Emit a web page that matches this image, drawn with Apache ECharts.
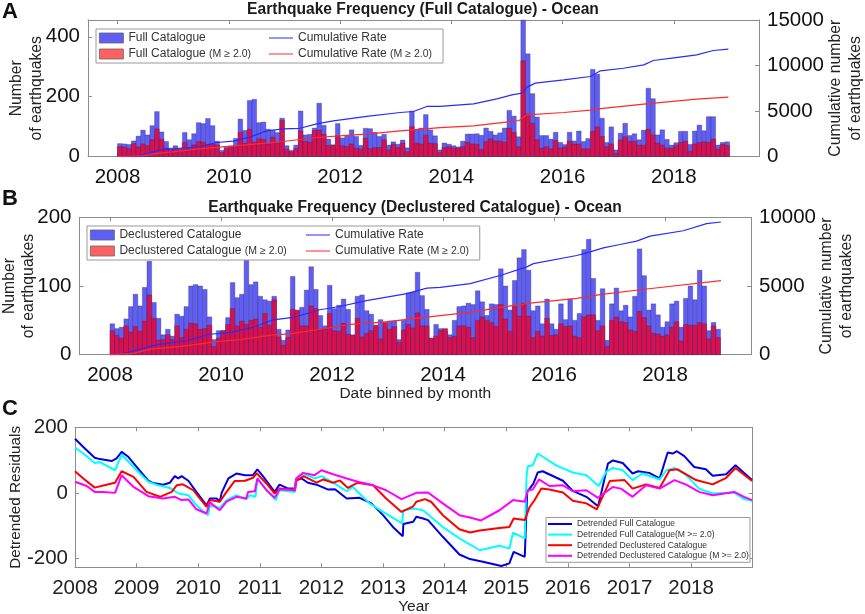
<!DOCTYPE html>
<html><head><meta charset="utf-8">
<style>html,body{margin:0;padding:0;background:#fff}#c{width:865px;height:614px}</style>
<script src="https://cdn.jsdelivr.net/npm/echarts@6/dist/echarts.min.js"></script>
</head><body><div id="c"></div>
<script>
// Monthly counts, Jan 2008 .. Dec 2018
const fullAll=[43,42,40,52,68,88,72,103,150,82,50,28,36,26,80,56,76,113,110,127,103,51,20,33,34,60,125,87,187,191,113,115,91,87,80,128,36,20,38,152,72,74,95,178,104,58,39,110,62,70,89,67,37,94,93,81,67,74,38,49,41,55,29,152,89,95,140,89,69,22,45,41,36,32,51,75,75,76,71,95,84,72,79,95,154,135,66,520,343,210,132,70,70,58,81,47,40,81,52,85,50,60,291,275,128,47,99,22,78,111,70,76,56,88,228,193,72,89,57,38,46,84,84,40,85,105,86,133,133,38,47,49];
const fullM2=[33,32,26,43,32,42,36,56,92,58,28,20,28,22,47,26,39,50,48,39,41,38,13,26,31,33,81,45,91,48,59,57,42,65,45,120,24,16,26,86,50,48,87,88,74,37,38,69,36,33,42,28,24,61,26,30,30,56,22,41,30,45,16,100,45,42,71,45,43,14,30,33,28,28,33,48,42,41,24,50,59,52,51,48,95,80,33,320,142,111,56,28,33,26,54,28,32,51,42,42,26,26,84,99,67,33,42,11,55,66,51,51,38,38,91,72,45,38,28,28,37,47,51,17,42,47,49,47,58,24,41,37];
const declAll=[45,38,40,52,70,88,71,98,136,76,53,29,37,27,59,56,70,100,102,100,95,55,22,35,35,54,105,83,88,139,102,106,85,80,78,85,37,21,36,114,65,69,94,128,95,57,42,101,67,72,81,66,29,85,87,64,59,40,51,38,49,49,22,50,90,91,120,86,66,24,44,38,34,29,50,70,71,75,73,93,77,57,74,73,125,100,65,108,141,153,123,64,71,45,81,45,37,74,51,81,50,60,153,168,111,50,96,21,74,97,64,72,55,85,154,115,65,74,58,40,48,74,78,40,82,100,80,123,100,35,47,37];
const declM2=[35,28,24,42,33,41,34,49,87,53,21,22,29,22,42,25,37,46,45,37,38,43,12,24,35,44,67,42,49,44,50,52,40,60,43,80,26,14,25,66,64,42,42,71,67,36,37,60,35,34,46,30,28,53,26,31,35,43,23,47,37,41,18,36,44,39,61,42,42,24,27,35,38,25,27,42,42,40,25,50,55,50,47,41,73,52,34,70,56,75,56,25,34,27,53,28,29,45,41,42,27,25,55,58,58,35,42,12,50,55,48,47,36,34,63,54,42,31,30,27,29,40,48,20,44,43,43,47,45,23,42,25];
// Cumulative curves: [decimal year, count]
const cumFullAll=[[2008,0],[2008.4,100],[2008.76,730],[2009,840],[2009.48,1100],[2009.78,1540],[2010.08,1685],[2010.38,2125],[2010.68,2820],[2010.98,3040],[2011.28,3100],[2011.58,3590],[2011.88,3920],[2012.48,4400],[2013.08,4835],[2013.32,4945],[2013.56,5500],[2013.8,5500],[2014.4,5790],[2014.82,6340],[2015.09,6780],[2015.27,6960],[2015.36,7620],[2015.51,8060],[2016.02,8425],[2016.5,8790],[2016.68,9415],[2017.09,9700],[2017.46,10070],[2017.63,10550],[2018,10840],[2018.41,11170],[2018.71,11650],[2018.98,11795]];
const cumFullM2=[[2008,0],[2008.46,100],[2008.76,370],[2009.48,840],[2010.08,1170],[2010.68,1465],[2010.98,1650],[2011.58,2090],[2012.18,2340],[2012.48,2450],[2013.08,2820],[2013.8,3180],[2014.4,3370],[2015.1,3850],[2015.22,3955],[2015.36,4580],[2016.02,4835],[2016.5,5090],[2016.68,5270],[2017.5,5790],[2018.41,6300],[2018.98,6520]];
const cumDeclAll=[[2008,0],[2008.24,70],[2008.54,390],[2008.78,680],[2009.38,1020],[2009.8,1490],[2010.16,1610],[2010.58,2000],[2010.94,2540],[2011.3,2710],[2011.78,3270],[2012.14,3510],[2012.62,3930],[2013.35,4440],[2013.71,4850],[2013.95,4900],[2014.49,5170],[2015.06,5800],[2015.51,6390],[2015.63,6630],[2016.41,7220],[2016.59,7410],[2016.89,7780],[2017.19,8020],[2017.49,8270],[2017.73,8630],[2018.33,9020],[2018.75,9540],[2019.01,9660]];
const cumDeclM2=[[2008,0],[2008.42,100],[2008.72,410],[2009.32,630],[2009.92,950],[2010.34,1100],[2010.94,1440],[2011.24,1510],[2011.78,1850],[2012.32,2200],[2012.92,2370],[2013.95,2850],[2014.55,3120],[2015.06,3460],[2015.57,3760],[2016.41,4100],[2016.83,4370],[2017.67,4780],[2019.01,5390]];
// Detrended residuals: [decimal year, residual]
const resFull=[[2008,165],[2008.135,140],[2008.32,107],[2008.405,103],[2008.595,97],[2008.675,105],[2008.757,125],[2008.865,110],[2009,79],[2009.19,37],[2009.27,30],[2009.43,25],[2009.54,31],[2009.62,51],[2009.676,44],[2009.73,51],[2009.84,37],[2009.97,3],[2010.135,-38],[2010.19,-17],[2010.3,-17],[2010.35,-27],[2010.38,0],[2010.49,44],[2010.62,59],[2010.76,54],[2010.89,54],[2010.96,72],[2011.05,51],[2011.24,3],[2011.32,25],[2011.46,13],[2011.57,13],[2011.59,41],[2011.68,44],[2011.78,31],[2011.92,25],[2012.11,10],[2012.22,11],[2012.41,-17],[2012.62,-15],[2012.81,-32],[2013,-68],[2013.16,-104],[2013.32,-132],[2013.33,-95],[2013.49,-88],[2013.54,-73],[2013.65,-78],[2013.73,-83],[2013.97,-134],[2014.24,-188],[2014.41,-202],[2014.62,-210],[2014.92,-223],[2015.05,-215],[2015.12,-180],[2015.3,-195],[2015.34,3],[2015.44,28],[2015.51,62],[2015.59,66],[2015.92,37],[2016.08,6],[2016.3,-12],[2016.49,-41],[2016.54,-2],[2016.65,89],[2016.73,99],[2016.89,91],[2017.05,59],[2017.14,66],[2017.32,61],[2017.49,44],[2017.62,123],[2017.7,120],[2017.77,127],[2017.89,112],[2018.05,79],[2018.24,72],[2018.35,52],[2018.57,57],[2018.72,84],[2018.99,39]];
const resFullM2=[[2008,138],[2008.135,120],[2008.32,91],[2008.405,94],[2008.65,69],[2008.757,117],[2009,69],[2009.19,34],[2009.35,23],[2009.54,15],[2009.68,-2],[2009.84,-7],[2009.97,-38],[2010.16,-68],[2010.19,-38],[2010.35,-46],[2010.46,-22],[2010.62,-7],[2010.78,-20],[2010.84,-7],[2010.93,-12],[2010.96,42],[2011.11,8],[2011.26,-22],[2011.32,8],[2011.57,3],[2011.59,42],[2011.7,59],[2011.89,44],[2012,51],[2012.19,31],[2012.41,5],[2012.51,18],[2012.78,-32],[2013,-58],[2013.31,-93],[2013.33,-53],[2013.51,-48],[2013.65,-53],[2013.97,-104],[2014.24,-139],[2014.57,-175],[2014.89,-161],[2015.05,-170],[2015.11,-121],[2015.3,-139],[2015.33,54],[2015.35,81],[2015.43,84],[2015.51,120],[2015.81,84],[2016.08,62],[2016.3,54],[2016.5,21],[2016.62,64],[2016.73,76],[2016.89,69],[2017.05,39],[2017.21,59],[2017.49,41],[2017.6,69],[2017.73,76],[2017.92,54],[2018.13,13],[2018.35,-2],[2018.7,1],[2018.86,-19],[2018.99,-24]];
const resDecl=[[2008,66],[2008.135,44],[2008.32,16],[2008.51,25],[2008.65,31],[2008.757,66],[2008.95,49],[2009.16,3],[2009.38,-12],[2009.57,3],[2009.65,23],[2009.75,26],[2009.92,8],[2010.135,-43],[2010.19,-22],[2010.35,-27],[2010.46,3],[2010.59,36],[2010.76,37],[2010.89,46],[2010.95,60],[2011.11,28],[2011.24,-2],[2011.32,13],[2011.57,8],[2011.59,36],[2011.71,51],[2011.92,31],[2012.03,41],[2012.19,31],[2012.3,38],[2012.43,15],[2012.59,31],[2012.84,23],[2013.05,-17],[2013.3,-58],[2013.49,-41],[2013.54,-27],[2013.68,-19],[2013.78,-27],[2013.97,-68],[2014.24,-111],[2014.41,-121],[2014.57,-115],[2014.89,-107],[2015.05,-104],[2015.12,-78],[2015.3,-83],[2015.38,-43],[2015.46,-22],[2015.57,13],[2015.7,10],[2015.92,1],[2016.08,-24],[2016.3,-32],[2016.47,-50],[2016.68,36],[2016.92,39],[2017.05,13],[2017.27,26],[2017.49,15],[2017.65,69],[2017.78,72],[2018.08,39],[2018.35,26],[2018.57,46],[2018.72,76],[2018.99,36]];
const resDeclM2=[[2008,34],[2008.19,21],[2008.32,3],[2008.46,3],[2008.65,0],[2008.757,54],[2008.95,18],[2009.19,-10],[2009.43,-17],[2009.62,-12],[2009.73,-22],[2009.84,-20],[2009.97,-50],[2010.135,-63],[2010.19,-29],[2010.35,-53],[2010.46,-27],[2010.62,-12],[2010.78,-17],[2010.81,3],[2010.92,5],[2010.96,44],[2011.11,8],[2011.24,-15],[2011.32,10],[2011.57,10],[2011.59,44],[2011.7,61],[2011.89,54],[2012,69],[2012.19,57],[2012.41,44],[2012.59,34],[2012.84,23],[2013.05,8],[2013.3,-19],[2013.54,0],[2013.73,1],[2013.97,-32],[2014.24,-68],[2014.41,-75],[2014.59,-84],[2014.89,-53],[2015.11,-22],[2015.3,-27],[2015.35,8],[2015.43,10],[2015.53,41],[2015.7,21],[2015.92,23],[2016.08,5],[2016.3,8],[2016.49,-15],[2016.73,18],[2016.86,13],[2017.05,-12],[2017.27,23],[2017.49,13],[2017.73,39],[2017.92,25],[2018.13,3],[2018.35,-7],[2018.7,3],[2018.86,-12],[2018.99,-22]];
const evenYears=[2008,2010,2012,2014,2016,2018];
const allYears=[2008,2009,2010,2011,2012,2013,2014,2015,2016,2017,2018];

const BLUE='#5f5ff5',CRIM='#d9104f',SW_RED='#ff6060',EDGE='rgba(50,40,90,0.55)',GR='#8c8c8c';
const FF='"Liberation Sans",Arial,sans-serif';
// each bar spans its calendar month on the value axis: [monthStart, monthEnd, count]
const monthly=v=>v.map((y,i)=>[2008+i/12,2008+(i+1)/12,y]);
const renderBar=(params,api)=>{
  const a=api.coord([api.value(0),0]),b=api.coord([api.value(1),api.value(2)]);
  const rect=echarts.graphic.clipRectByRect({x:a[0],y:b[1],width:b[0]-a[0],height:a[1]-b[1]},
    {x:params.coordSys.x,y:params.coordSys.y,width:params.coordSys.width,height:params.coordSys.height});
  return rect&&{type:'rect',shape:rect,style:api.style()};
};
const bar=(name,data,color,x,y,z)=>({name,type:'custom',renderItem:renderBar,data:monthly(data),xAxisIndex:x,yAxisIndex:y,z,
  encode:{x:[0,1],y:2},itemStyle:{color,borderColor:EDGE,borderWidth:0.6},silent:true});
const line=(name,data,color,x,y,w)=>({name,type:'line',data,xAxisIndex:x,yAxisIndex:y,showSymbol:false,symbol:'none',
  lineStyle:{color,width:w},itemStyle:{color},silent:true,z:3});
const axLine={show:true,onZero:false,lineStyle:{color:GR,width:1}};
const inTick=(vals,len)=>({show:true,inside:true,length:len||4,lineStyle:{color:GR},customValues:vals});
function xA(gridIndex,pos,min,max,vals,labelled,color,margin,name,gap){
  return {type:'value',gridIndex,position:pos,min,max,axisLine:axLine,splitLine:{show:false},
    axisTick:inTick(vals),
    axisLabel:labelled?{show:true,customValues:vals,formatter:v=>String(Math.round(v)),fontFamily:FF,fontSize:20.5,color,margin}:{show:false},
    name:name||'',nameLocation:'middle',nameGap:gap||0,nameMoveOverlap:false,nameTextStyle:{fontFamily:FF,fontSize:15.5,color:'#222'}};
}
function yA(gridIndex,pos,min,max,vals,labelled,name,gap,color,margin,nameSize){
  return {type:'value',gridIndex,position:pos,min,max,axisLine:axLine,splitLine:{show:false},
    axisTick:inTick(vals.filter(v=>v!==min&&v!==max)),
    axisLabel:labelled?{show:true,customValues:vals,formatter:v=>String(v),fontFamily:FF,fontSize:20.5,color,margin}:{show:false},
    name:name||'',nameLocation:'middle',nameGap:gap||0,nameMoveOverlap:false,nameRotate:90,nameTextStyle:{fontFamily:FF,fontSize:nameSize||15.8,color:'#222',lineHeight:19.5}};
}
const legFmt=n=>n.includes(' (M ≥ 2.0)')?n.replace(' (M ≥ 2.0)','')+' {s|(M ≥ 2.0)}':n;
const legText={fontFamily:FF,fontSize:12,color:'#333',rich:{s:{fontFamily:FF,fontSize:10.5,color:'#333'}}};
const LINE_ICON='path://M0 0H0.01V0H0ZM0 4.4H26V5.6H0ZM26 10H25.99V10H26Z';
function legendPair(left,top,rightPad,secondLeft,barNames){
  const sw=c=>({color:c,borderColor:'#666',borderWidth:0.8});
  return [
   {orient:'vertical',left,top,itemWidth:24,itemHeight:10,itemGap:4,padding:[3,rightPad,3,3],
    borderColor:'#9a9a9a',borderWidth:1,backgroundColor:'#fff',
    data:[{name:barNames[0],icon:'rect',itemStyle:sw(BLUE)},{name:barNames[1],icon:'rect',itemStyle:sw(SW_RED)}],
    formatter:legFmt,textStyle:legText,selectedMode:false},
   {orient:'vertical',left:secondLeft,top:top+3,itemWidth:24,itemHeight:10,itemGap:4,padding:0,
    data:[{name:'Cumulative Rate',icon:LINE_ICON},{name:'Cumulative Rate (M ≥ 2.0)',icon:LINE_ICON}],
    formatter:legFmt,textStyle:legText,selectedMode:false}
  ];
}
const letter=(text,left,top)=>({text,left,top,padding:0,textStyle:{fontFamily:FF,fontSize:22,fontWeight:'bold',color:'#111'}});
const head=(text,cx,top)=>({text,left:cx,top,textAlign:'center',padding:0,textStyle:{fontFamily:FF,fontSize:15.6,fontWeight:'bold',color:'#1a1a1a'}});
const gridOf=(left,top,width,height)=>({left,top,width,height,show:false,outerBoundsMode:'none',containLabel:false});

const option={
  animation:false,backgroundColor:'#fff',
  title:[letter('A',2,1),letter('B',2,187.5),letter('C',2,397.5),
    head('Earthquake Frequency (Full Catalogue) - Ocean',423,2),
    head('Earthquake Frequency (Declustered Catalogue) - Ocean',415,200)],
  grid:[gridOf(88,20,671,136.5),gridOf(79.5,217.3,671.5,137.4),gridOf(75,427.3,677.7,140)],
  xAxis:[
    xA(0,'bottom',2007.47,2019.53,evenYears,true,'#111',10.5),
    xA(0,'top',2007.47,2019.53,evenYears,false),
    xA(1,'bottom',2007.45,2019.55,evenYears,true,'#111',10,'Date binned by month',31),
    xA(1,'top',2007.45,2019.55,evenYears,false),
    xA(2,'bottom',2008,2019,allYears,true,'#222',10.5,'Year',31),
    xA(2,'top',2008,2019,allYears,false)],
  yAxis:[
    yA(0,'left',0,456,[0,200,400],true,'Number\nof earthquakes',42,'#111',8),
    yA(0,'right',0,15000,[0,5000,10000,15000],true,'Cumulative number\nof earthquakes',67,'#111',8),
    yA(1,'left',0,200,[0,100,200],true,'Number\nof earthquakes',41,'#111',8),
    yA(1,'right',0,10000,[0,5000,10000],true,'Cumulative number\nof earthquakes',66,'#111',8),
    yA(2,'left',-227,200,[-200,0,200],true,'Detrended Residuals',49,'#222',7,15.3),
    yA(2,'right',-227,200,[-200,0,200],false)],
  legend:[
    ...legendPair(96,29,192,269,['Full Catalogue','Full Catalogue (M ≥ 2.0)']),
    ...legendPair(87,226,193,306,['Declustered Catalogue','Declustered Catalogue (M ≥ 2.0)']),
    {orient:'vertical',left:546,top:517.5,itemWidth:24,itemHeight:2,itemGap:1.6,padding:[2,1,2,2],
     borderColor:'#9a9a9a',borderWidth:1,backgroundColor:'#fff',selectedMode:false,icon:'rect',
     data:['Detrended Full Catalogue','Detrended Full Catalogue(M >= 2.0)','Detrended Declustered Catalogue','Detrended Declustered Catalogue (M >= 2.0)'],
     textStyle:{fontFamily:FF,fontSize:8.6,color:'#333'}}],
  series:[
    bar('Full Catalogue',fullAll,BLUE,0,0,2),
    bar('Full Catalogue (M ≥ 2.0)',fullM2,CRIM,0,0,2.1),
    line('Cumulative Rate',cumFullAll,'#2a2aff',0,1,1.2),
    line('Cumulative Rate (M ≥ 2.0)',cumFullM2,'#ff2a2a',0,1,1.2),
    bar('Declustered Catalogue',declAll,BLUE,2,2,2),
    bar('Declustered Catalogue (M ≥ 2.0)',declM2,CRIM,2,2,2.1),
    line('Cumulative Rate',cumDeclAll,'#2a2aff',2,3,1.2),
    line('Cumulative Rate (M ≥ 2.0)',cumDeclM2,'#ff2a2a',2,3,1.2),
    line('Detrended Full Catalogue',resFull,'#0000e0',4,4,2),
    line('Detrended Full Catalogue(M >= 2.0)',resFullM2,'#00ffff',4,4,2),
    line('Detrended Declustered Catalogue',resDecl,'#ff0000',4,4,2),
    line('Detrended Declustered Catalogue (M >= 2.0)',resDeclM2,'#ff00ff',4,4,2)]
};
echarts.init(document.getElementById('c'),null,{renderer:'canvas'}).setOption(option);
</script></body></html>
